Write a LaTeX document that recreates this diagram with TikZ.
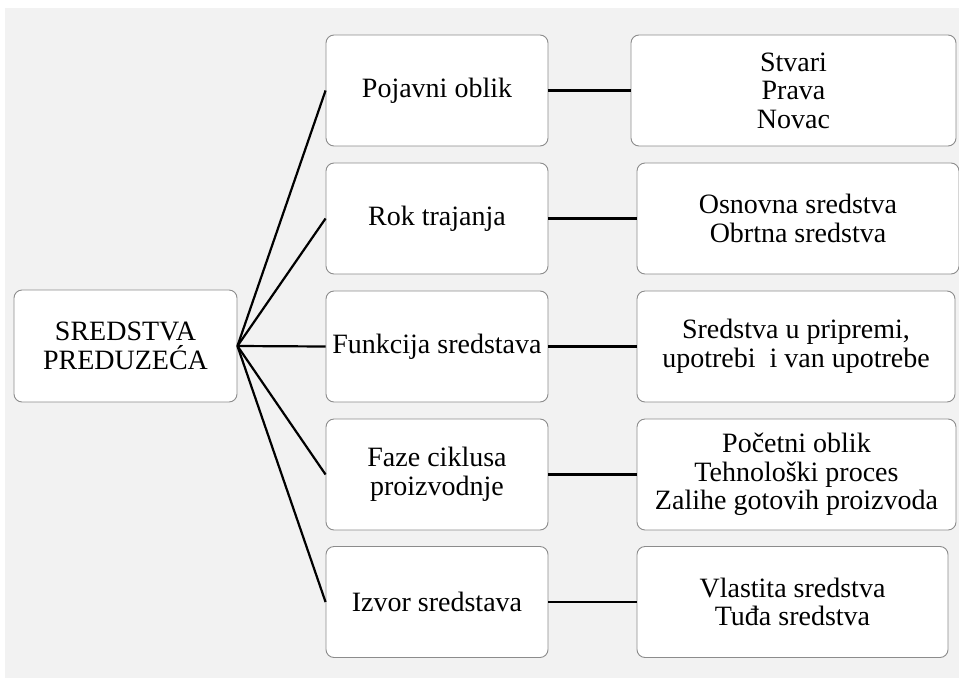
\documentclass[tikz,border=0pt]{standalone}
\usepackage{fontspec}
\setmainfont{LiberationSerif}[Extension=.ttf, UprightFont=*-Regular, BoldFont=*-Bold]
\definecolor{panel}{HTML}{F2F2F2}
\definecolor{boxline}{HTML}{8C8C8C}
\begin{document}
\begin{tikzpicture}[x=1pt,y=-1pt,
  card/.style={draw=boxline, line width=0.9pt, fill=white, rounded corners=8pt,
    rectangle, inner sep=0pt, align=center, minimum height=111pt,
    font=\fontsize{28}{28.5}\selectfont},
  link/.style={line width=2.2pt, black}]
  % page and panel
  \useasboundingbox (0,0) rectangle (959,678);
  \fill[white] (0,0) rectangle (959,678);
  \fill[panel] (5,8) rectangle (959,678);

  % root
  \node[card, minimum width=223pt, minimum height=112pt] (root) at (125.5,346) {SREDSTVA\\PREDUZEĆA};

  % criteria
  \node[card, minimum width=222pt] (m1) at (437,90.5)  {Pojavni oblik};
  \node[card, minimum width=222pt] (m2) at (437,218.5) {Rok trajanja};
  \node[card, minimum width=222pt] (m3) at (437,346.5) {Funkcija sredstava};
  \node[card, minimum width=222pt] (m4) at (437,474.5) {Faze ciklusa\\proizvodnje};
  \node[card, minimum width=222pt] (m5) at (437,602)   {Izvor sredstava};

  % kinds
  \node[card, minimum width=325pt] (r1) at (793.5,90.5)  {Stvari\\Prava\\Novac};
  \node[card, minimum width=322pt] (r2) at (798,218.5)   {Osnovna sredstva\\Obrtna sredstva};
  \node[card, minimum width=318pt] (r3) at (796,346.5)   {Sredstva u pripremi,\\upotrebi\ \ i van upotrebe};
  \node[card, minimum width=319pt] (r4) at (796.5,474.5) {Početni oblik\\Tehnološki proces\\Zalihe gotovih proizvoda};
  \node[card, minimum width=311pt] (r5) at (792.5,602)   {Vlastita sredstva\\Tuđa sredstva};

  % connectors
  \foreach \i in {1,...,5} {
    \draw[link] (root.east) -- (m\i.west);
    \draw[link] (m\i.east) -- (r\i.west);
  }
\end{tikzpicture}
\end{document}
